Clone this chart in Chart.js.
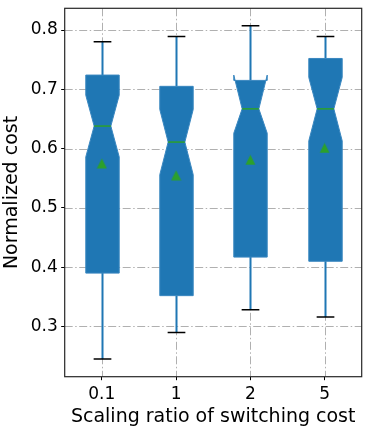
<!DOCTYPE html>
<html>
<head>
<meta charset="utf-8">
<script src="https://cdn.jsdelivr.net/npm/chart.js@4/dist/chart.umd.min.js"></script>
<style>
html,body{margin:0;padding:0;background:#fff;}
#wrap{width:373px;height:429px;}
</style>
</head>
<body>
<div id="wrap"><canvas id="c" width="373" height="429"></canvas></div>
<script>
const categories = ['0.1', '1', '2', '5'];
const whiskerLow  = [0.245, 0.290, 0.328, 0.316];
const q1Values    = [0.390, 0.352, 0.417, 0.410];
const notchLow    = [0.586, 0.556, 0.626, 0.613];
const medians     = [0.638, 0.611, 0.667, 0.667];
const notchHigh   = [0.690, 0.666, 0.724, 0.720];
const q3Values    = [0.724, 0.705, 0.715, 0.752];
const whiskerHigh = [0.780, 0.789, 0.807, 0.789];
const means       = [0.575, 0.555, 0.581, 0.601];
const yTicks      = [0.3, 0.4, 0.5, 0.6, 0.7, 0.8];

const BLUE = '#1f77b4', GREEN = '#2ca02c';
const FONT = 'DejaVu Sans';

// matplotlib-like '^' marker
const tri = document.createElement('canvas');
tri.width = 11; tri.height = 11;
(function(){
  const t = tri.getContext('2d');
  t.fillStyle = GREEN;
  t.beginPath();
  t.moveTo(5.5, 0.5); t.lineTo(10.5, 10.5); t.lineTo(0.5, 10.5); t.closePath();
  t.fill();
})();

const noPad = s => { s.paddingTop = 0; s.paddingBottom = 0; s.paddingLeft = 0; s.paddingRight = 0; };

const boxPlugin = {
  id: 'boxes',
  beforeDatasetsDraw(chart) {
    const ctx = chart.ctx, xs = chart.scales.x, ys = chart.scales.y, a = chart.chartArea;
    ctx.save();
    // grid
    ctx.strokeStyle = '#b0b0b0';
    ctx.lineWidth = 1;
    ctx.setLineDash([8, 2.5, 1.5, 2.5]);
    yTicks.forEach(v => {
      const y = Math.round(ys.getPixelForValue(v)) + 0.5;
      ctx.beginPath(); ctx.moveTo(a.left, y); ctx.lineTo(a.right, y); ctx.stroke();
    });
    categories.forEach((c, i) => {
      const x = Math.round(xs.getPixelForValue(i)) + 0.5;
      ctx.beginPath(); ctx.moveTo(x, a.top); ctx.lineTo(x, a.bottom); ctx.stroke();
    });
    ctx.setLineDash([]);
    const unit = xs.getPixelForValue(1) - xs.getPixelForValue(0);
    const hw = unit * 0.45 / 2, cw = hw / 2;
    categories.forEach((c, i) => {
      const x = Math.round(xs.getPixelForValue(i)) + 0.5;
      const Y = v => ys.getPixelForValue(v);
      // whiskers
      ctx.strokeStyle = BLUE; ctx.lineWidth = 2;
      ctx.beginPath();
      ctx.moveTo(x, Y(q3Values[i])); ctx.lineTo(x, Y(whiskerHigh[i]));
      ctx.moveTo(x, Y(q1Values[i])); ctx.lineTo(x, Y(whiskerLow[i]));
      ctx.stroke();
      // caps
      ctx.strokeStyle = '#000'; ctx.lineWidth = 1.5;
      ctx.beginPath();
      ctx.moveTo(x - cw - 0.5, Y(whiskerHigh[i])); ctx.lineTo(x + cw + 0.5, Y(whiskerHigh[i]));
      ctx.moveTo(x - cw - 0.5, Y(whiskerLow[i])); ctx.lineTo(x + cw + 0.5, Y(whiskerLow[i]));
      ctx.stroke();
      // notched box
      ctx.beginPath();
      ctx.moveTo(x - hw, Y(q1Values[i]));
      ctx.lineTo(x - hw, Y(notchLow[i]));
      ctx.lineTo(x - cw, Y(medians[i]));
      ctx.lineTo(x - hw, Y(notchHigh[i]));
      ctx.lineTo(x - hw, Y(q3Values[i]));
      ctx.lineTo(x + hw, Y(q3Values[i]));
      ctx.lineTo(x + hw, Y(notchHigh[i]));
      ctx.lineTo(x + cw, Y(medians[i]));
      ctx.lineTo(x + hw, Y(notchLow[i]));
      ctx.lineTo(x + hw, Y(q1Values[i]));
      ctx.closePath();
      ctx.fillStyle = BLUE; ctx.fill();
      ctx.strokeStyle = '#3a87c0'; ctx.lineWidth = 1; ctx.stroke();
      // median
      ctx.strokeStyle = GREEN; ctx.lineWidth = 1.5;
      ctx.beginPath();
      ctx.moveTo(x - cw, Y(medians[i])); ctx.lineTo(x + cw, Y(medians[i]));
      ctx.stroke();
    });
    ctx.restore();
  },
  afterDraw(chart) {
    const ctx = chart.ctx, a = chart.chartArea;
    ctx.save();
    ctx.strokeStyle = '#262626'; ctx.lineWidth = 1.2;
    ctx.strokeRect(a.left, a.top, a.right - a.left, a.bottom - a.top);
    ctx.restore();
  }
};

new Chart(document.getElementById('c'), {
  type: 'line',
  data: {
    labels: categories,
    datasets: [{
      label: 'mean',
      data: means,
      showLine: false,
      pointStyle: tri,
      pointRadius: 5,
      pointHoverRadius: 5,
      backgroundColor: GREEN,
      borderColor: GREEN
    }]
  },
  options: {
    responsive: false,
    animation: false,
    events: [],
    layout: { padding: { top: 8.3, right: 11.3, left: 0, bottom: 0 } },
    plugins: { legend: { display: false }, tooltip: { enabled: false } },
    scales: {
      x: {
        type: 'category',
        offset: true,
        grid: { display: true, drawOnChartArea: false, drawTicks: true, tickLength: 3.5, tickColor: '#000', tickWidth: 1, offset: false },
        border: { display: false },
        ticks: { color: '#000', padding: 4.5, font: { family: FONT, size: 17 } },
        title: { display: true, text: 'Scaling ratio of switching cost', color: '#000', font: { family: FONT, size: 19 }, padding: { top: 0, bottom: 0.5 } },
        afterFit(s) { s.height = 52.3; noPad(s); }
      },
      y: {
        min: 0.2153,
        max: 0.8366,
        afterBuildTicks(s) { s.ticks = yTicks.map(v => ({ value: v })); },
        grid: { display: true, drawOnChartArea: false, drawTicks: true, tickLength: 3.5, tickColor: '#000', tickWidth: 1 },
        border: { display: false },
        ticks: { color: '#000', padding: 3.5, font: { family: FONT, size: 17 }, callback: v => v.toFixed(1) },
        title: { display: true, text: 'Normalized cost', color: '#000', font: { family: FONT, size: 19 }, padding: { top: 0.5, bottom: 0 } },
        afterFit(s) { s.width = 64.7; noPad(s); }
      }
    }
  },
  plugins: [boxPlugin]
});
</script>
</body>
</html>
